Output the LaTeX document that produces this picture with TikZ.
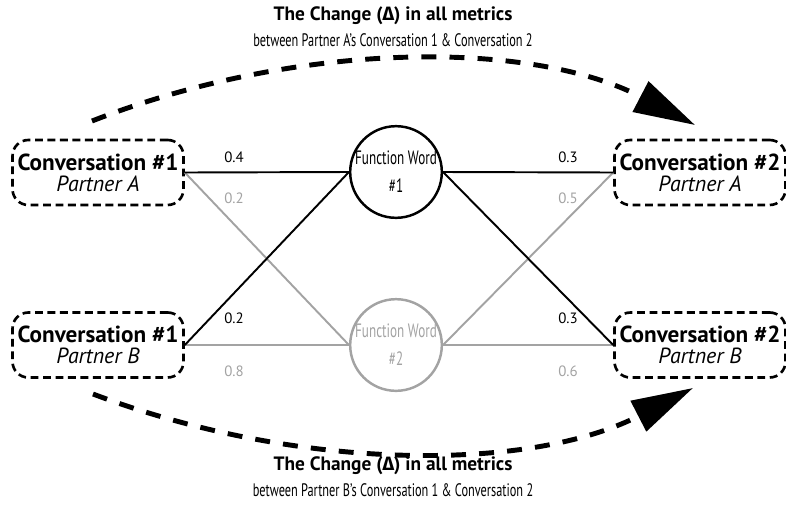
\documentclass[tikz,border=0pt]{standalone}
\usepackage{fontspec}
\setmainfont{PT Sans}
\newfontfamily\condfont[FakeStretch=0.68]{PT Sans}
\newfontfamily\grkfont{Fira Sans}
\usetikzlibrary{arrows.meta}
\definecolor{wgray}{HTML}{A3A3A3}
\tikzset{
  convbox/.style={draw, line width=1.5pt, dash pattern=on 4.5pt off 2.6pt, rounded corners=9pt,
    minimum width=3.42cm, minimum height=1.3cm, align=center, inner sep=0pt},
  wordnode/.style={circle, draw, line width=1.4pt, minimum size=1.76cm, inner sep=0pt, align=center,
    font=\condfont\fontsize{11}{16}\selectfont},
  weight/.style={font=\fontsize{8.5}{9}\selectfont},
  wline/.style={line width=1.1pt},
  change/.style={line width=2.8pt, dash pattern=on 8.5pt off 7.5pt, -{Triangle[length=35pt, width=19pt]}},
  ttl/.style={font=\bfseries\fontsize{11}{12}\selectfont},
  subttl/.style={font=\condfont\fontsize{10.3}{11}\selectfont},
}
\newcommand{\convtext}[2]{{\bfseries\fontsize{13.2}{15}\selectfont Conversation \##1}\\{\itshape\fontsize{12.5}{15}\selectfont Partner #2}}
\begin{document}
\begin{tikzpicture}[x=0.02cm, y=-0.02cm]
 \useasboundingbox (0,0) rectangle (786,504);
 % Hộp hội thoại
 \node[convbox] (c1a) at (98,172.5) {\convtext{1}{A}};
 \node[convbox] (c1b) at (98,345) {\convtext{1}{B}};
 \node[convbox] (c2a) at (700,172.5) {\convtext{2}{A}};
 \node[convbox] (c2b) at (700,345) {\convtext{2}{B}};
 % Hai vòng tròn từ chức năng
 \node[wordnode] (fw1) at (396,172) {Function Word\\\#1};
 \node[wordnode, draw=wgray, text=wgray] (fw2) at (396,345) {Function Word\\\#2};
 % Các đường nối
 \draw[wline, wgray] (c1a.east) -- (fw2.west);
 \draw[wline, wgray] (c1b.east) -- (fw2.west);
 \draw[wline, wgray] (fw2.east) -- (c2a.west);
 \draw[wline, wgray] (fw2.east) -- (c2b.west);
 \draw[wline] (c1a.east) -- (fw1.west);
 \draw[wline] (c1b.east) -- (fw1.west);
 \draw[wline] (fw1.east) -- (c2a.west);
 \draw[wline] (fw1.east) -- (c2b.west);
 % Trọng số
 \node[weight] (w1a1) at (234,157) {0.4};
 \node[weight, wgray] (w1a2) at (234,198) {0.2};
 \node[weight] (w1b1) at (234,318) {0.2};
 \node[weight, wgray] (w1b2) at (234,371) {0.8};
 \node[weight] (w2a1) at (568,157) {0.3};
 \node[weight, wgray] (w2a2) at (568,198) {0.5};
 \node[weight] (w2b1) at (568,318) {0.3};
 \node[weight, wgray] (w2b2) at (568,371) {0.6};
 % Mũi tên thay đổi
 \coordinate (topS) at (92,121);
 \coordinate (topE) at (695,125);
 \coordinate (botS) at (93,394);
 \coordinate (botE) at (693,388);
 \draw[change] (topS) .. controls (300,40) and (532,40) .. (topE);
 \draw[change] (botS) .. controls (300,472) and (530,472) .. (botE);
 % Tiêu đề
 \node[ttl] (topttl) at (393,16) {The Change ({\grkfont Δ}) in all metrics};
 \node[subttl] (topsub) at (393,40) {between Partner A’s Conversation 1 \& Conversation 2};
 \node[ttl] (botttl) at (393,466) {The Change ({\grkfont Δ}) in all metrics};
 \node[subttl] (botsub) at (393,490) {between Partner B’s Conversation 1 \& Conversation 2};
\end{tikzpicture}
\end{document}
